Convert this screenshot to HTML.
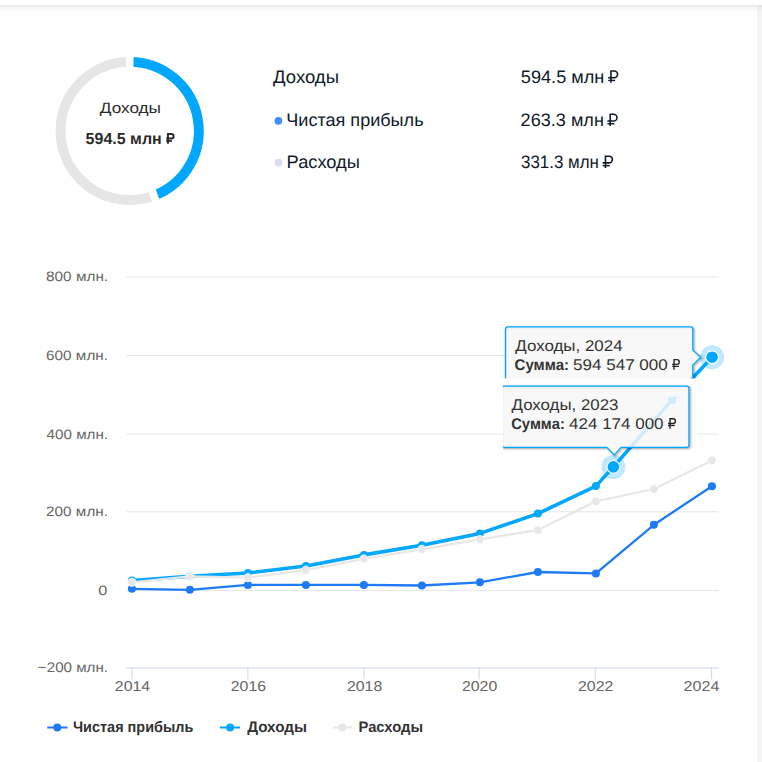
<!DOCTYPE html>
<html><head><meta charset="utf-8"><style>
html,body{margin:0;padding:0;background:#fff;width:762px;height:762px;overflow:hidden}
body{position:relative;font-family:"Liberation Sans",sans-serif}
.hdr{position:absolute;left:0;top:0;width:762px;height:5px;background:#fff;z-index:3}
.shd{position:absolute;left:0;top:5px;width:762px;height:8px;background:linear-gradient(rgba(0,0,0,0.085),rgba(0,0,0,0.03) 45%,rgba(0,0,0,0));z-index:3}
.strip{position:absolute;left:757px;top:0;width:5px;height:762px;background:#f4f5f7}
svg{position:absolute;left:0;top:0}
svg text{font-family:"Liberation Sans",sans-serif;text-rendering:geometricPrecision}
</style></head><body>

<div class="strip"></div><div class="hdr"></div><div class="shd"></div>
<svg width="762" height="762" viewBox="0 0 762 762">
<defs>
<filter id="sh" x="-10%" y="-10%" width="130%" height="140%">
<feDropShadow dx="1" dy="1" stdDeviation="1.2" flood-color="#000" flood-opacity="0.22"/>
</filter>
<clipPath id="clip23"><rect x="503" y="380" width="260" height="120"/></clipPath>
<clipPath id="clip24"><rect x="480" y="300" width="260" height="78.5"/></clipPath>
</defs>
<circle cx="129.7" cy="130.9" r="69.1" fill="none" stroke="#e6e6e6" stroke-width="9.8"/>
<path d="M129.70,61.80 A69.1,69.1 0 0 1 153.97,195.60" fill="none" stroke="#00a7ff" stroke-width="9.8"/>
<line x1="129.70" y1="69.80" x2="129.70" y2="53.80" stroke="#fff" stroke-width="7.6"/>
<line x1="151.16" y1="188.11" x2="156.77" y2="203.09" stroke="#fff" stroke-width="7.6"/>
<text x="99.86" y="112.7" font-size="15.00" fill="#2b2b2b" font-weight="normal" textLength="61.12" lengthAdjust="spacingAndGlyphs">Доходы</text>
<text x="85.58" y="143.9" font-size="16.00" fill="#2b2b2b" font-weight="bold" textLength="76.18" lengthAdjust="spacingAndGlyphs">594.5 млн</text>
<path d="M167.96,143.80 V134.00 H171.35 A2.25,2.25 0 0 1 171.35,138.51 H166.20" fill="none" stroke="#2b2b2b" stroke-width="2.0"/><path d="M166.20,140.99 H172.00" stroke="#2b2b2b" stroke-width="1.80"/>
<text x="273.12" y="82.6" font-size="18.00" fill="#101a2b" font-weight="normal" textLength="65.84" lengthAdjust="spacingAndGlyphs">Доходы</text>
<circle cx="278.4" cy="120.8" r="3.9" fill="#3f8ff8"/>
<text x="286.25" y="126.1" font-size="18.00" fill="#101a2b" font-weight="normal" textLength="137.32" lengthAdjust="spacingAndGlyphs">Чистая прибыль</text>
<circle cx="278.4" cy="162.6" r="3.9" fill="#d6dfeb"/>
<text x="286.57" y="167.8" font-size="18.00" fill="#101a2b" font-weight="normal" textLength="73.36" lengthAdjust="spacingAndGlyphs">Расходы</text>
<text x="520.85" y="82.6" font-size="18.00" fill="#101a2b" font-weight="normal" textLength="83.56" lengthAdjust="spacingAndGlyphs">594.5 млн</text>
<path d="M610.95,82.70 V71.00 H614.25 A3.35,3.35 0 0 1 614.25,77.70 H608.20" fill="none" stroke="#101a2b" stroke-width="1.6"/><path d="M608.20,80.45 H615.14" stroke="#101a2b" stroke-width="1.44"/>
<text x="520.64" y="125.9" font-size="18.00" fill="#101a2b" font-weight="normal" textLength="83.25" lengthAdjust="spacingAndGlyphs">263.3 млн</text>
<path d="M610.21,126.00 V114.30 H613.65 A3.35,3.35 0 0 1 613.65,121.00 H607.40" fill="none" stroke="#101a2b" stroke-width="1.6"/><path d="M607.40,123.75 H614.47" stroke="#101a2b" stroke-width="1.44"/>
<text x="521.03" y="167.8" font-size="18.00" fill="#101a2b" font-weight="normal" textLength="77.91" lengthAdjust="spacingAndGlyphs">331.3 млн</text>
<path d="M605.46,167.90 V156.20 H609.05 A3.35,3.35 0 0 1 609.05,162.90 H602.60" fill="none" stroke="#101a2b" stroke-width="1.6"/><path d="M602.60,165.65 H609.81" stroke="#101a2b" stroke-width="1.44"/>
<line x1="126.1" y1="277.0" x2="718.5" y2="277.0" stroke="#e6e6e6" stroke-width="1"/>
<line x1="126.1" y1="355.5" x2="718.5" y2="355.5" stroke="#e6e6e6" stroke-width="1"/>
<line x1="126.1" y1="434.1" x2="718.5" y2="434.1" stroke="#e6e6e6" stroke-width="1"/>
<line x1="126.1" y1="511.8" x2="718.5" y2="511.8" stroke="#e6e6e6" stroke-width="1"/>
<line x1="126.1" y1="590.6" x2="718.5" y2="590.6" stroke="#e6e6e6" stroke-width="1"/>
<line x1="126.1" y1="668.0" x2="718.9" y2="668.0" stroke="#ccd6eb" stroke-width="1"/>
<line x1="131.9" y1="668" x2="131.9" y2="679.4" stroke="#ccd6eb" stroke-width="1"/>
<line x1="247.9" y1="668" x2="247.9" y2="679.4" stroke="#ccd6eb" stroke-width="1"/>
<line x1="364.1" y1="668" x2="364.1" y2="679.4" stroke="#ccd6eb" stroke-width="1"/>
<line x1="479.1" y1="668" x2="479.1" y2="679.4" stroke="#ccd6eb" stroke-width="1"/>
<line x1="595.3" y1="668" x2="595.3" y2="679.4" stroke="#ccd6eb" stroke-width="1"/>
<line x1="711.6" y1="668" x2="711.6" y2="679.4" stroke="#ccd6eb" stroke-width="1"/>
<text x="46.07" y="281.4" font-size="13.70" fill="#666666" font-weight="normal" textLength="62.06" lengthAdjust="spacingAndGlyphs">800 млн.</text>
<text x="46.14" y="359.9" font-size="13.70" fill="#666666" font-weight="normal" textLength="61.87" lengthAdjust="spacingAndGlyphs">600 млн.</text>
<text x="46.58" y="438.5" font-size="13.70" fill="#666666" font-weight="normal" textLength="61.48" lengthAdjust="spacingAndGlyphs">400 млн.</text>
<text x="46.14" y="516.2" font-size="13.70" fill="#666666" font-weight="normal" textLength="61.87" lengthAdjust="spacingAndGlyphs">200 млн.</text>
<text x="98.34" y="595.0" font-size="13.70" fill="#666666" font-weight="normal" textLength="9.10" lengthAdjust="spacingAndGlyphs">0</text>
<text x="37.89" y="671.6" font-size="13.90" fill="#666666" font-weight="normal" textLength="70.18" lengthAdjust="spacingAndGlyphs">−200 млн.</text>
<text x="114.83" y="690.8" font-size="14.25" fill="#666666" font-weight="normal" textLength="35.28" lengthAdjust="spacingAndGlyphs">2014</text>
<text x="230.83" y="690.8" font-size="14.25" fill="#666666" font-weight="normal" textLength="35.13" lengthAdjust="spacingAndGlyphs">2016</text>
<text x="347.01" y="690.8" font-size="14.25" fill="#666666" font-weight="normal" textLength="35.19" lengthAdjust="spacingAndGlyphs">2018</text>
<text x="462.01" y="690.8" font-size="14.25" fill="#666666" font-weight="normal" textLength="35.22" lengthAdjust="spacingAndGlyphs">2020</text>
<text x="578.05" y="690.8" font-size="14.25" fill="#666666" font-weight="normal" textLength="35.24" lengthAdjust="spacingAndGlyphs">2022</text>
<text x="683.58" y="690.8" font-size="14.25" fill="#666666" font-weight="normal" textLength="35.79" lengthAdjust="spacingAndGlyphs">2024</text>
<rect x="503" y="386" width="194.3" height="61.5" fill="#fff"/>
<polyline points="131.9,588.8 189.9,589.8 247.9,584.9 305.9,584.9 363.9,584.9 421.9,585.5 479.9,582.3 537.9,572.0 595.9,573.4 653.9,524.8 711.9,486.2" fill="none" stroke="#1e7bf5" stroke-width="2.3" stroke-linejoin="round"/>
<circle cx="131.9" cy="588.8" r="4" fill="#1e7bf5"/>
<circle cx="189.9" cy="589.8" r="4" fill="#1e7bf5"/>
<circle cx="247.9" cy="584.9" r="4" fill="#1e7bf5"/>
<circle cx="305.9" cy="584.9" r="4" fill="#1e7bf5"/>
<circle cx="363.9" cy="584.9" r="4" fill="#1e7bf5"/>
<circle cx="421.9" cy="585.5" r="4" fill="#1e7bf5"/>
<circle cx="479.9" cy="582.3" r="4" fill="#1e7bf5"/>
<circle cx="537.9" cy="572" r="4" fill="#1e7bf5"/>
<circle cx="595.9" cy="573.4" r="4" fill="#1e7bf5"/>
<circle cx="653.9" cy="524.8" r="4" fill="#1e7bf5"/>
<circle cx="711.9" cy="486.2" r="4" fill="#1e7bf5"/>
<polyline points="131.9,580.6 189.9,576.3 247.9,573.0 305.9,566.0 363.9,554.9 421.9,545.2 479.9,533.4 537.9,513.6 595.9,486.1 613.4,466.9 672.0,400.0 712.1,357.2" fill="none" stroke="#00a7ff" stroke-width="3.6" stroke-linejoin="round"/>
<circle cx="131.9" cy="580.6" r="4" fill="#00a7ff"/>
<circle cx="189.9" cy="576.3" r="4" fill="#00a7ff"/>
<circle cx="247.9" cy="573.0" r="4" fill="#00a7ff"/>
<circle cx="305.9" cy="566.0" r="4" fill="#00a7ff"/>
<circle cx="363.9" cy="554.9" r="4" fill="#00a7ff"/>
<circle cx="421.9" cy="545.2" r="4" fill="#00a7ff"/>
<circle cx="479.9" cy="533.4" r="4" fill="#00a7ff"/>
<circle cx="537.9" cy="513.6" r="4" fill="#00a7ff"/>
<circle cx="595.9" cy="486.1" r="4" fill="#00a7ff"/>
<circle cx="672" cy="400" r="4" fill="#00a7ff"/>
<polyline points="131.9,582.3 189.9,576.3 247.9,577.7 305.9,570.1 363.9,558.9 421.9,549.3 479.9,539.4 537.9,530.0 595.9,501.3 653.9,489.0 711.9,460.5" fill="none" stroke="#e7e7e7" stroke-width="2.3" stroke-linejoin="round"/>
<circle cx="131.9" cy="582.3" r="4.2" fill="#e7e7e7" stroke="#fff" stroke-opacity="0.7" stroke-width="0.8"/>
<circle cx="189.9" cy="576.3" r="4.2" fill="#e7e7e7" stroke="#fff" stroke-opacity="0.7" stroke-width="0.8"/>
<circle cx="247.9" cy="577.7" r="4.2" fill="#e7e7e7" stroke="#fff" stroke-opacity="0.7" stroke-width="0.8"/>
<circle cx="305.9" cy="570.1" r="4.2" fill="#e7e7e7" stroke="#fff" stroke-opacity="0.7" stroke-width="0.8"/>
<circle cx="363.9" cy="558.9" r="4.2" fill="#e7e7e7" stroke="#fff" stroke-opacity="0.7" stroke-width="0.8"/>
<circle cx="421.9" cy="549.3" r="4.2" fill="#e7e7e7" stroke="#fff" stroke-opacity="0.7" stroke-width="0.8"/>
<circle cx="479.9" cy="539.4" r="4.2" fill="#e7e7e7" stroke="#fff" stroke-opacity="0.7" stroke-width="0.8"/>
<circle cx="537.9" cy="530.0" r="4.2" fill="#e7e7e7" stroke="#fff" stroke-opacity="0.7" stroke-width="0.8"/>
<circle cx="595.9" cy="501.3" r="4.2" fill="#e7e7e7" stroke="#fff" stroke-opacity="0.7" stroke-width="0.8"/>
<circle cx="653.9" cy="489.0" r="4.2" fill="#e7e7e7" stroke="#fff" stroke-opacity="0.7" stroke-width="0.8"/>
<circle cx="711.9" cy="460.5" r="4.2" fill="#e7e7e7" stroke="#fff" stroke-opacity="0.7" stroke-width="0.8"/>
<line x1="597" y1="477.5" x2="625" y2="477.5" stroke="#000" stroke-opacity="0.06" stroke-width="1"/>
<circle cx="613.4" cy="466.9" r="12" fill="#00a7ff" fill-opacity="0.25"/>
<circle cx="613.4" cy="466.9" r="6.4" fill="#00a7ff" stroke="#fff" stroke-width="1.2"/>
<circle cx="712.1" cy="357.2" r="12" fill="#00a7ff" fill-opacity="0.25"/>
<circle cx="712.1" cy="357.2" r="6.4" fill="#00a7ff" stroke="#fff" stroke-width="1.2"/>
<g clip-path="url(#clip24)"><path d="M508.0,326.8 H690.3 A2.5,2.5 0 0 1 692.8,329.3 V350 L700.6,357.4 L692.8,365 V385.6 A2.5,2.5 0 0 1 690.3,388.1 H508.0 A2.5,2.5 0 0 1 505.5,385.6 V329.3 A2.5,2.5 0 0 1 508.0,326.8 Z" fill="none" stroke="#000" stroke-opacity="0.05" stroke-width="5" transform="translate(1,1)"/><path d="M508.0,326.8 H690.3 A2.5,2.5 0 0 1 692.8,329.3 V350 L700.6,357.4 L692.8,365 V385.6 A2.5,2.5 0 0 1 690.3,388.1 H508.0 A2.5,2.5 0 0 1 505.5,385.6 V329.3 A2.5,2.5 0 0 1 508.0,326.8 Z" fill="none" stroke="#000" stroke-opacity="0.10" stroke-width="3" transform="translate(1,1)"/><path d="M508.0,326.8 H690.3 A2.5,2.5 0 0 1 692.8,329.3 V350 L700.6,357.4 L692.8,365 V385.6 A2.5,2.5 0 0 1 690.3,388.1 H508.0 A2.5,2.5 0 0 1 505.5,385.6 V329.3 A2.5,2.5 0 0 1 508.0,326.8 Z" fill="none" stroke="#000" stroke-opacity="0.15" stroke-width="1" transform="translate(1,1)"/><path d="M508.0,326.8 H690.3 A2.5,2.5 0 0 1 692.8,329.3 V350 L700.6,357.4 L692.8,365 V385.6 A2.5,2.5 0 0 1 690.3,388.1 H508.0 A2.5,2.5 0 0 1 505.5,385.6 V329.3 A2.5,2.5 0 0 1 508.0,326.8 Z" fill="#f7f7f7" fill-opacity="0.85" stroke="#00a7ff" stroke-width="1.3"/>
<text x="515.26" y="350.7" font-size="15.50" fill="#333333" font-weight="normal" textLength="107.31" lengthAdjust="spacingAndGlyphs">Доходы, 2024</text>
<text x="514.56" y="369.5" font-size="15.50" fill="#333333" font-weight="bold" textLength="54.57" lengthAdjust="spacingAndGlyphs">Сумма:</text>
<text x="573.06" y="369.5" font-size="15.50" fill="#333333" font-weight="normal" textLength="94.75" lengthAdjust="spacingAndGlyphs">594 547 000</text>
<path d="M674.02,369.80 V359.60 H677.02 A2.38,2.38 0 0 1 677.02,364.35 H672.20" fill="none" stroke="#262626" stroke-width="1.4"/><path d="M672.20,366.42 H678.92" stroke="#262626" stroke-width="1.26"/>
</g>
<rect x="480" y="378.6" width="217.3" height="18.0" fill="#fff"/>
<line x1="503" y1="398.3" x2="679" y2="398.3" stroke="#000" stroke-opacity="0.035" stroke-width="1"/>
<g clip-path="url(#clip23)"><path d="M504.2,386.1 H686.5 A2.5,2.5 0 0 1 689.0,388.6 V444.8 A2.5,2.5 0 0 1 686.5,447.3 H621.2 L614.3,454.9 L606.8,447.3 H504.2 A2.5,2.5 0 0 1 501.7,444.8 V388.6 A2.5,2.5 0 0 1 504.2,386.1 Z" fill="none" stroke="#000" stroke-opacity="0.05" stroke-width="5" transform="translate(1,1)"/><path d="M504.2,386.1 H686.5 A2.5,2.5 0 0 1 689.0,388.6 V444.8 A2.5,2.5 0 0 1 686.5,447.3 H621.2 L614.3,454.9 L606.8,447.3 H504.2 A2.5,2.5 0 0 1 501.7,444.8 V388.6 A2.5,2.5 0 0 1 504.2,386.1 Z" fill="none" stroke="#000" stroke-opacity="0.10" stroke-width="3" transform="translate(1,1)"/><path d="M504.2,386.1 H686.5 A2.5,2.5 0 0 1 689.0,388.6 V444.8 A2.5,2.5 0 0 1 686.5,447.3 H621.2 L614.3,454.9 L606.8,447.3 H504.2 A2.5,2.5 0 0 1 501.7,444.8 V388.6 A2.5,2.5 0 0 1 504.2,386.1 Z" fill="none" stroke="#000" stroke-opacity="0.15" stroke-width="1" transform="translate(1,1)"/><path d="M504.2,386.1 H686.5 A2.5,2.5 0 0 1 689.0,388.6 V444.8 A2.5,2.5 0 0 1 686.5,447.3 H621.2 L614.3,454.9 L606.8,447.3 H504.2 A2.5,2.5 0 0 1 501.7,444.8 V388.6 A2.5,2.5 0 0 1 504.2,386.1 Z" fill="#f7f7f7" fill-opacity="0.85" stroke="#00a7ff" stroke-width="1.3"/>
<text x="511.56" y="409.5" font-size="15.50" fill="#333333" font-weight="normal" textLength="106.93" lengthAdjust="spacingAndGlyphs">Доходы, 2023</text>
<text x="511.16" y="428.6" font-size="15.50" fill="#333333" font-weight="bold" textLength="53.67" lengthAdjust="spacingAndGlyphs">Сумма:</text>
<text x="569.12" y="428.6" font-size="15.50" fill="#333333" font-weight="normal" textLength="94.45" lengthAdjust="spacingAndGlyphs">424 174 000</text>
<path d="M670.02,428.80 V418.80 H673.08 A2.32,2.32 0 0 1 673.08,423.45 H668.00" fill="none" stroke="#262626" stroke-width="1.4"/><path d="M668.00,425.48 H674.88" stroke="#262626" stroke-width="1.26"/>
</g>
<line x1="47.2" y1="727.5" x2="67.6" y2="727.5" stroke="#1e7bf5" stroke-width="2"/>
<circle cx="57.3" cy="727.5" r="4" fill="#1e7bf5"/>
<line x1="220" y1="727.5" x2="240" y2="727.5" stroke="#00a7ff" stroke-width="2"/>
<circle cx="230.1" cy="727.5" r="4" fill="#00a7ff"/>
<line x1="332.7" y1="727.5" x2="352.2" y2="727.5" stroke="#e7e7e7" stroke-width="2"/>
<circle cx="342.4" cy="727.5" r="4" fill="#e7e7e7"/>
<text x="72.96" y="732.0" font-size="15.20" fill="#333333" font-weight="bold" textLength="120.42" lengthAdjust="spacingAndGlyphs">Чистая прибыль</text>
<text x="247.16" y="732.0" font-size="15.20" fill="#333333" font-weight="bold" textLength="59.77" lengthAdjust="spacingAndGlyphs">Доходы</text>
<text x="358.49" y="732.0" font-size="15.20" fill="#333333" font-weight="bold" textLength="64.54" lengthAdjust="spacingAndGlyphs">Расходы</text>
</svg></body></html>
